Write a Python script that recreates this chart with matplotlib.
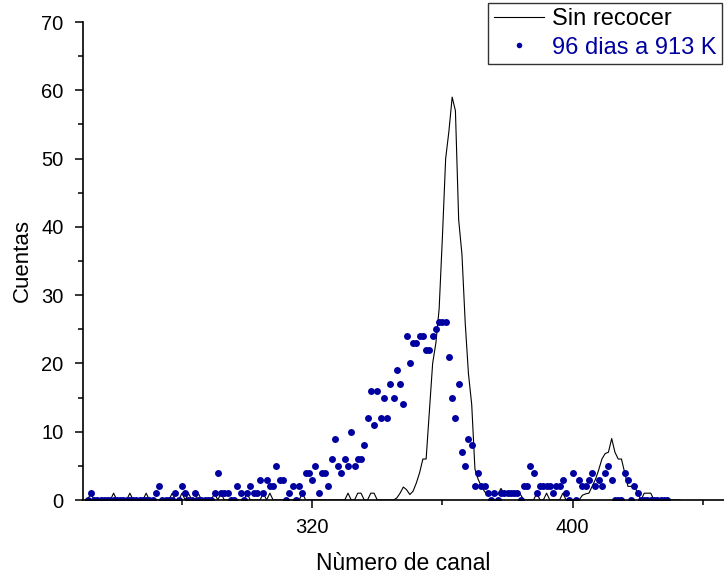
import numpy as np
import matplotlib
matplotlib.use("Agg")
import matplotlib.pyplot as plt
from matplotlib.ticker import MultipleLocator, FixedLocator

plt.rcParams['font.family'] = ['Liberation Sans', 'DejaVu Sans']

# Sin recocer (linea negra), cuentas por canal desde el canal 251
inicio_sin_recocer = 251
sin_recocer = [
    0, 1, 0, 0, 0, 0, 0, 0, 1, 0, 0, 0, 0, 1, 0, 0, 0, 0, 1, 0,
    0, 0, 0, 0, 0, 0, 1, 0, 0, 1, 0, 1, 0, 0, 1, 0, 0, 0, 0, 1,
    0, 1, 0, 0, 0, 0, 0, 0, 0, 1, 0, 0, 0, 0, 1, 0, 1, 0, 0, 0,
    0, 0, 0, 0, 0, 0, 1, 0, 0, 0, 0, 0, 0, 0, 0, 0, 0, 0, 0, 0,
    1, 0, 0, 1, 1, 0, 0, 1, 1, 0, 0, 0, 0, 0, 0, 0.3, 1.0, 1.9, 1.5, 0.8,
    1.3, 2.5, 4, 6, 6, 13, 20, 23, 28, 38.5, 50, 54, 59, 57, 41, 36, 26, 18.5, 14, 4.5,
    3, 2, 1.2, 0.8, 0.8, 0.8, 0.8, 1.7, 0.8, 0.8, 0.8, 0.8, 0.8, 0.8, 0, 0, 0, 0, 1, 0,
    0, 1, 0, 0, 0, 0, 1, 0, 0, 0, 0, 0, 0.7, 0.9, 1, 2, 3, 4.4, 6, 6.8,
    7, 9, 7, 6, 6, 4, 2, 2, 2, 1, 0, 1, 1, 1, 0, 0, 0, 0, 0, 0,
    0, 0, 0,
]

# 96 dias a 913 K (puntos azules), cuentas por canal desde el canal 251
inicio_recocido = 251
recocido = [
    0, 1, 0, 0, 0, 0, 0, 0, 0, 0, 0, 0, 0, 0, 0, 0, 0, 0, 0, 0,
    0, 1, 2, 0, 0, 0, 0, 1, 0, 2, 1, 0, 0, 1, 0, 0, 0, 0, 0, 1,
    4, 1, 1, 1, 0, 0, 2, 1, 0, 1, 2, 1, 1, 3, 1, 3, 2, 2, 5, 3,
    3, 0, 1, 2, 0, 2, 1, 4, 4, 3, 5, 1, 4, 4, 2, 6, 9, 5, 4, 6,
    5, 10, 5, 6, 6, 8, 12, 16, 11, 16, 12, 15, 12, 17, 15, 19, 17, 14, 24, 20,
    23, 23, 24, 24, 22, 22, 24, 25, 26, 26, 26, 21, 15, 12, 17, 7, 5, 9, 8, 2,
    4, 2, 2, 1, 0, 1, 0, 1, 1, 1, 1, 1, 1, 0, 2, 2, 5, 4, 1, 2,
    2, 2, 2, 1, 2, 2, 3, 1, 0, 4, 0, 3, 2, 2, 3, 4, 2, 3, 2, 4,
    5, 3, 0, 0, 0, 4, 3, 0, 2, 1, 0, 0, 0, 0, 0, 0, 0, 0, 0,
]

azul = '#0000A0'

canales_a = np.arange(len(sin_recocer)) + inicio_sin_recocer
canales_b = np.arange(len(recocido)) + inicio_recocido

fig = plt.figure(figsize=(7.24, 5.77), dpi=100)
ax = fig.add_axes([83 / 724, 77 / 577, 641 / 724, 478 / 577])

l1, = ax.plot(canales_a, sin_recocer, color='black', lw=0.8, label='Sin recocer')
l2, = ax.plot(canales_b, recocido, 'o', color=azul, ms=5, mec='none',
              label='96 dias a 913 K')

ax.set_xlim(249.6, 446.5)
ax.set_ylim(0, 70)

for s in ['top', 'right']:
    ax.spines[s].set_visible(False)
for s in ['left', 'bottom']:
    ax.spines[s].set_linewidth(1.2)
    ax.spines[s].set_zorder(5)

ax.xaxis.set_major_locator(FixedLocator([320, 400]))
ax.xaxis.set_minor_locator(FixedLocator([280, 360, 440]))
ax.yaxis.set_major_locator(MultipleLocator(10))
ax.yaxis.set_minor_locator(MultipleLocator(5))
ax.tick_params(which='major', direction='out', length=6, width=1.1, labelsize=14.5)
ax.tick_params(axis='x', which='major', pad=7)
ax.tick_params(axis='y', which='major', pad=8)
ax.tick_params(which='minor', direction='out', length=3.5, width=1.1)

ax.set_xlabel('Nùmero de canal', fontsize=16.5, labelpad=11)
ax.set_ylabel('Cuentas', fontsize=16, labelpad=6)

leg = fig.legend(handles=[l1, l2], loc='upper right',
                 bbox_to_anchor=(722 / 724, 1 - 3 / 577), fontsize=17,
                 frameon=True, fancybox=False, shadow=False,
                 borderaxespad=0, borderpad=0.22, handlelength=2.15,
                 handletextpad=0.34, labelspacing=0.27, markerscale=0.8)
leg.get_frame().set_edgecolor('black')
leg.get_frame().set_linewidth(1.0)
leg.get_texts()[1].set_color(azul)

fig.savefig('out.png', dpi=100)
